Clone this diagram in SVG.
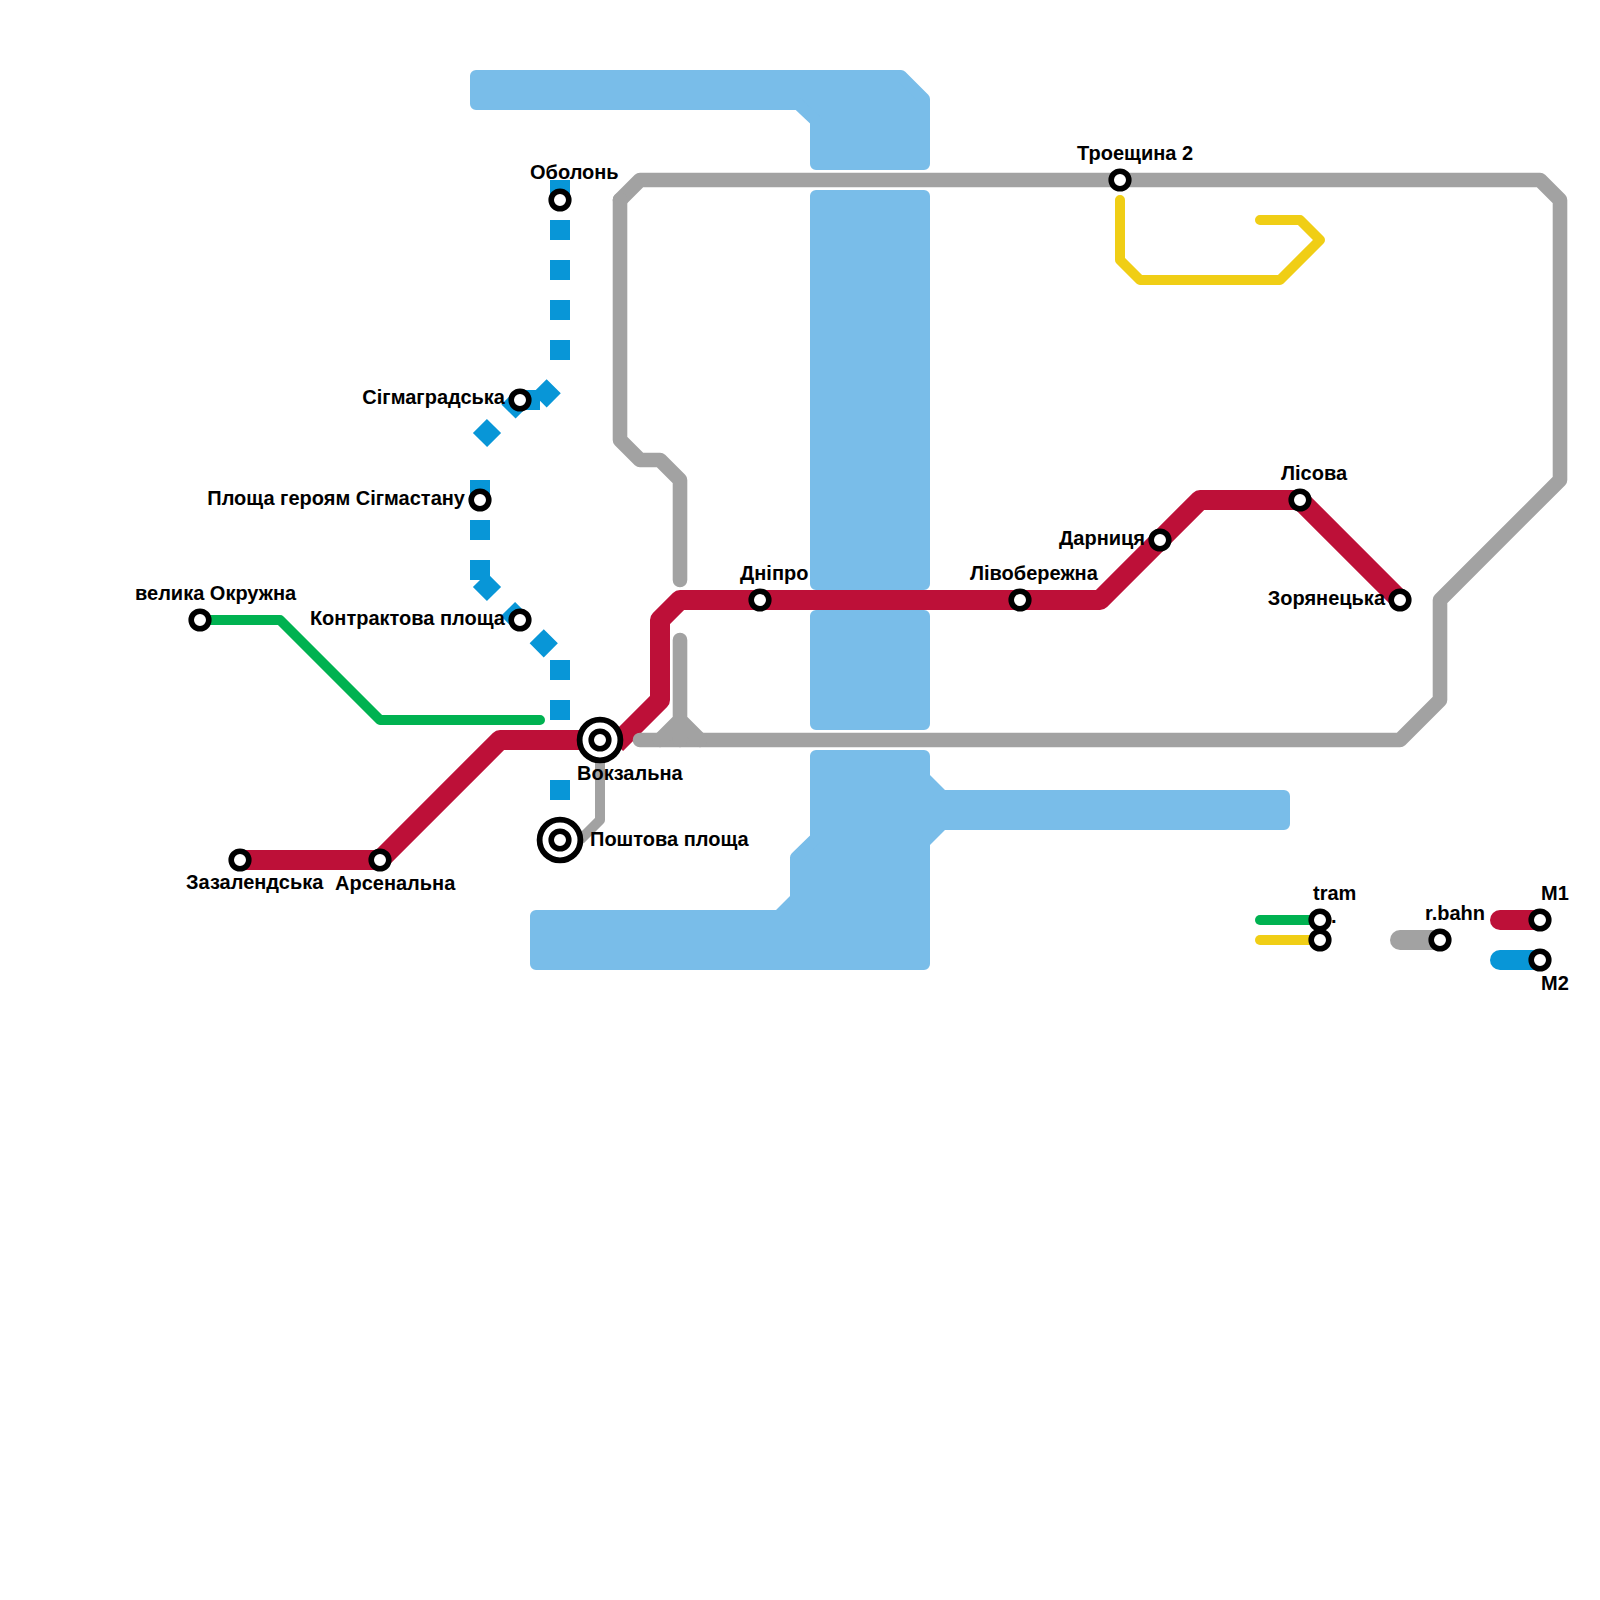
<svg xmlns="http://www.w3.org/2000/svg" width="1600" height="1600" viewBox="0 0 1600 1600">
<style>
.water{fill:#79bde9;stroke:#79bde9;stroke-width:12;stroke-linejoin:round}
.l{fill:none;stroke-linejoin:round}
.red{stroke:#bd1038;stroke-width:20}
.gray{stroke:#a2a2a2;stroke-width:14.6;stroke-linecap:round}
.green{stroke:#00b251;stroke-width:10;stroke-linecap:round}
.yellow{stroke:#f0ce15;stroke-width:10;stroke-linecap:round}
.blue{stroke:#0896d7;stroke-width:20}
.s{fill:#fff;stroke:#000;stroke-width:5.600}
.o{fill:#fff;stroke:#000;stroke-width:5.800}
text{font-family:"Liberation Sans",Arial,sans-serif;font-weight:700;font-size:20px;fill:#000}
.e{text-anchor:end}
</style>
<rect width="1600" height="1600" fill="#fff"/>
<g id="water">
<path class="water" d="M476 76H901L924 99V164H816V121L798 104H476Z"/>
<path class="water" d="M816 196H924V584H816Z"/>
<path class="water" d="M816 616H924V724H816Z"/>
<path class="water" d="M816 756H924V777.500L942.500 796H1284V824H942.500L924 842.500V964H536V916H778.500L796 898.500V857.500L816 838Z"/>
</g>
<g id="connectors">
<path class="l red" d="M240 860H380L500 740H600M616 744L660 700V620L680 600H1100L1200 500H1300L1400 600"/>
<path class="l gray" d="M640 740H1400L1440 700V600L1560 480V200L1540 180H640L620 200"/>
<path class="l gray" d="M620 200V440L640 460H660L680 480V580"/>
<path class="l gray" d="M680 640V740M660 740L680 720L700 740"/>
<path class="l gray" style="stroke-width:10;stroke-linecap:butt" d="M600 760V820L580 840"/>
<path class="l green" d="M200 620H280L380 720H540"/>
<path class="l yellow" d="M1120 200V260L1140 280H1280L1320 240L1300 220H1260"/>
<path class="l blue" d="M560 180V200M560 220V240M560 260V280M560 300V320M560 340V360M553.700 386.300L539.600 400.400M540 400H520M522.600 397.400L508.500 411.500M494 426L480 440M480 480V500M480 520V540M480 560V580M480 580L494 594M508 609L522 623M536.700 636.300L550.800 650.400M560 660V680M560 700V720M560 780V800"/>
<path class="l green" d="M1260 920H1320"/>
<path class="l yellow" d="M1260 940H1320"/>
<path class="l" style="stroke:#a2a2a2;stroke-width:20;stroke-linecap:round" d="M1400 940H1440"/>
<path class="l" style="stroke:#bd1038;stroke-width:20;stroke-linecap:round" d="M1500 920H1540"/>
<path class="l" style="stroke:#0896d7;stroke-width:20;stroke-linecap:round" d="M1500 960H1540"/>
</g>
<g id="st-obolon"><circle class="s" cx="560" cy="200" r="8.800"/><text x="530" y="179">Оболонь</text></g>
<g id="st-sigma"><circle class="s" cx="520" cy="400" r="8.800"/><text class="e" x="505" y="404">Сігмаградська</text></g>
<g id="st-ploshcha"><circle class="s" cx="480" cy="500" r="8.800"/><text class="e" x="465" y="505">Площа героям Сігмастану</text></g>
<g id="st-kontrakt"><circle class="s" cx="520" cy="620" r="8.800"/><text class="e" x="505" y="625">Контрактова площа</text></g>
<g id="st-okruzhna"><circle class="s" cx="200" cy="620" r="8.800"/><text x="135" y="600">велика Окружна</text></g>
<g id="st-zazal"><circle class="s" cx="240" cy="860" r="8.800"/><text x="186" y="889">Зазалендська</text></g>
<g id="st-arsenal"><circle class="s" cx="380" cy="860" r="8.800"/><text x="335" y="890">Арсенальна</text></g>
<g id="st-vokzal"><circle class="o" cx="600" cy="740" r="20.400"/><circle class="s" cx="600" cy="740" r="8.800"/><text x="577" y="780">Вокзальна</text></g>
<g id="st-poshta"><circle class="o" cx="560" cy="840" r="20.400"/><circle class="s" cx="560" cy="840" r="8.800"/><text x="590" y="846">Поштова площа</text></g>
<g id="st-dnipro"><circle class="s" cx="760" cy="600" r="8.800"/><text x="740" y="580">Дніпро</text></g>
<g id="st-livo"><circle class="s" cx="1020" cy="600" r="8.800"/><text x="970" y="580">Лівобережна</text></g>
<g id="st-troye"><circle class="s" cx="1120" cy="180" r="8.800"/><text x="1077" y="160">Троещина 2</text></g>
<g id="st-darn"><circle class="s" cx="1160" cy="540" r="8.800"/><text class="e" x="1145" y="545">Дарниця</text></g>
<g id="st-lis"><circle class="s" cx="1300" cy="500" r="8.800"/><text x="1281" y="480">Лісова</text></g>
<g id="st-zor"><circle class="s" cx="1400" cy="600" r="8.800"/><text class="e" x="1385" y="605">Зорянецька</text></g>
<g id="leg-tram"><circle class="s" cx="1320" cy="920" r="8.800"/><text x="1313" y="900">tram</text></g>
<g id="leg-tram2"><circle class="s" cx="1320" cy="940" r="8.800"/><text x="1331" y="923">.</text></g>
<g id="leg-rbahn"><circle class="s" cx="1440" cy="940" r="8.800"/><text x="1425" y="920">r.bahn</text></g>
<g id="leg-m1"><circle class="s" cx="1540" cy="920" r="8.800"/><text x="1541" y="900">M1</text></g>
<g id="leg-m2"><circle class="s" cx="1540" cy="960" r="8.800"/><text x="1541" y="990">M2</text></g>
</svg>
